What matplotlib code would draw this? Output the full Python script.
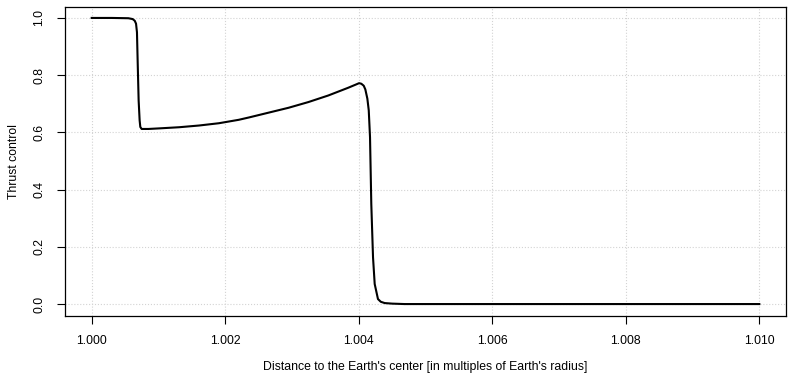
import numpy as np
import matplotlib
matplotlib.use("Agg")
import matplotlib.pyplot as plt

plt.rcParams['font.family'] = ['Liberation Sans', 'DejaVu Sans']

# distance to Earth's center (multiples of Earth radius) and thrust control,
# read off the reference figure
distance = [1.000000, 1.000300, 1.000550, 1.000614, 1.000645, 1.000664,
            1.000678, 1.000688, 1.000703, 1.000718, 1.000728, 1.000748,
            1.000850, 1.001011, 1.001309, 1.001607, 1.001905, 1.002203,
            1.002352, 1.002475, 1.002650, 1.002948, 1.003246, 1.003544,
            1.003842, 1.003965, 1.004005, 1.004039, 1.004075, 1.004099,
            1.004129, 1.004150, 1.004169, 1.004188, 1.004214, 1.004239,
            1.004288, 1.004330, 1.004388, 1.004500, 1.004686, 1.006000,
            1.008000, 1.010000]
thrust = [1.000, 1.000, 0.999, 0.996, 0.990, 0.980,
          0.950, 0.852, 0.712, 0.642, 0.619, 0.612,
          0.612, 0.614, 0.618, 0.624, 0.632, 0.644,
          0.652, 0.659, 0.669, 0.686, 0.706, 0.729,
          0.756, 0.768, 0.772, 0.770, 0.763, 0.750,
          0.718, 0.677, 0.583, 0.350, 0.163, 0.070,
          0.0175, 0.008, 0.0035, 0.0015, 0.000, 0.000,
          0.000, 0.000]

xticks = [1.000, 1.002, 1.004, 1.006, 1.008, 1.010]
yticks = [0.0, 0.2, 0.4, 0.6, 0.8, 1.0]

fig = plt.figure(figsize=(7.89, 3.75), dpi=100)
ax = fig.add_axes([65 / 789, 1 - 315.5 / 375, (786 - 65) / 789, (315.5 - 6.5) / 375])

ax.plot(distance, thrust, color='black', linewidth=1.5)

ax.set_xlim(0.9996, 1.0104)
ax.set_ylim(-0.04, 1.04)
ax.set_xticks(xticks)
ax.set_xticklabels(['%.3f' % v for v in xticks])
ax.set_yticks(yticks)
ax.set_yticklabels(['%.1f' % v for v in yticks], rotation=90, va='center')
ax.tick_params(labelsize=8.8, length=6, width=0.8, pad=8)
ax.grid(True, color='lightgray', linestyle=':', linewidth=0.8)
for s in ax.spines.values():
    s.set_linewidth(0.9)

ax.set_xlabel("Distance to the Earth's center [in multiples of Earth's radius]",
              fontsize=8.8, labelpad=10)
ax.set_ylabel("Thrust control", fontsize=8.8, labelpad=10)

fig.savefig('out.png', dpi=100)
